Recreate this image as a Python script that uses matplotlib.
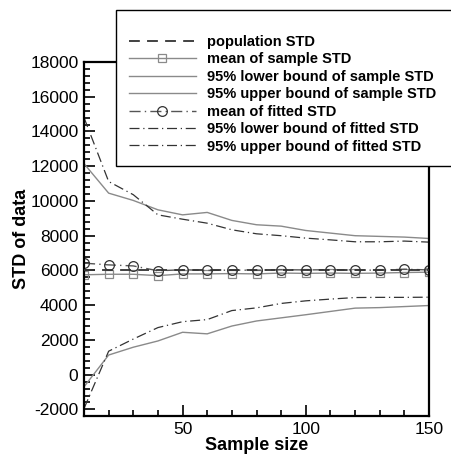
import matplotlib
matplotlib.use("Agg")
import matplotlib.pyplot as plt
from matplotlib.ticker import MultipleLocator

plt.rcParams['font.family'] = ['Liberation Sans', 'DejaVu Sans']
plt.rcParams['axes.unicode_minus'] = False

sample_size = [10, 20, 30, 40, 50, 60, 70, 80, 90, 100, 110, 120, 130, 140, 150]
population_std = [6000] * len(sample_size)
mean_sample_std = [5750, 5780, 5780, 5700, 5800, 5800, 5820, 5800, 5850, 5830, 5850, 5830, 5850, 5880, 5900]
lower_sample_std = [-700, 1130, 1580, 1940, 2440, 2350, 2800, 3090, 3270, 3450, 3640, 3830, 3860, 3920, 3980]
upper_sample_std = [12150, 10450, 10030, 9490, 9200, 9340, 8880, 8630, 8550, 8300, 8150, 8000, 7960, 7920, 7840]
mean_fitted_std = [6420, 6320, 6260, 5980, 6040, 6000, 6020, 6010, 6040, 6030, 6040, 6030, 6010, 6070, 6030]
lower_fitted_std = [-1950, 1350, 2050, 2710, 3050, 3170, 3690, 3845, 4100, 4250, 4350, 4440, 4450, 4450, 4460]
upper_fitted_std = [14800, 11120, 10360, 9200, 8950, 8720, 8340, 8110, 8000, 7860, 7760, 7650, 7650, 7690, 7630]

labels = ["population STD", "mean of sample STD", "95% lower bound of sample STD",
          "95% upper bound of sample STD", "mean of fitted STD",
          "95% lower bound of fitted STD", "95% upper bound of fitted STD"]

fig = plt.figure(figsize=(4.52, 4.55), dpi=100)
ax = fig.add_axes([84/452, 1-416/455, (429-84)/452, (416-62)/455])

gray = '#8a8a8a'
dark = '#333333'
h1, = ax.plot(sample_size, population_std, ls=(0, (6, 4)), color=dark, lw=1.3, label=labels[0], zorder=3)
h2, = ax.plot(sample_size, mean_sample_std, ls='-', color=gray, lw=1.0, marker='s', ms=6,
              mfc='none', mec=gray, mew=0.9, label=labels[1])
h3, = ax.plot(sample_size, lower_sample_std, ls='-', color=gray, lw=1.0, label=labels[2])
h4, = ax.plot(sample_size, upper_sample_std, ls='-', color=gray, lw=1.0, label=labels[3])
h5, = ax.plot(sample_size, mean_fitted_std, ls=(0, (8, 3, 1, 3)), color='#555555', lw=1.0, marker='o', ms=7,
              mfc='none', mec=dark, mew=0.9, label=labels[4])
h6, = ax.plot(sample_size, lower_fitted_std, ls=(0, (8, 3, 1, 3)), color=dark, lw=0.9, label=labels[5])
h7, = ax.plot(sample_size, upper_fitted_std, ls=(0, (8, 3, 1, 3)), color=dark, lw=0.9, label=labels[6])

ax.set_xlim(10, 150)
ax.set_ylim(-2380, 18000)
ax.xaxis.set_major_locator(MultipleLocator(50))
ax.xaxis.set_minor_locator(MultipleLocator(10))
ax.yaxis.set_major_locator(MultipleLocator(2000))
ax.yaxis.set_minor_locator(MultipleLocator(400))
ax.tick_params(which='both', direction='in', top=False, right=False, labelsize=12.5, width=1.2)
ax.tick_params(which='major', length=8, pad=4)
ax.tick_params(which='minor', length=4)
for s in ax.spines.values():
    s.set_linewidth(1.6)

ax.set_xlabel("Sample size", fontsize=13, fontweight='bold', labelpad=0)
ax.set_ylabel("STD of data", fontsize=13, fontweight='bold', labelpad=0)

leg = fig.legend(handles=[h1, h2, h3, h4, h5, h6, h7], loc='upper left',
                 bbox_to_anchor=(116/452, 1-166/455, (470-116)/452, (166-10)/455),
                 bbox_transform=fig.transFigure, fancybox=False, mode='expand',
                 edgecolor='black', framealpha=1, prop={'weight': 'bold', 'size': 10.5},
                 title=' ', title_fontsize=6.5,
                 handlelength=4.6, handletextpad=0.8, labelspacing=0.235, borderpad=0.86,
                 borderaxespad=0)
leg.get_frame().set_linewidth(1.0)

fig.savefig("out.png", dpi=100)
